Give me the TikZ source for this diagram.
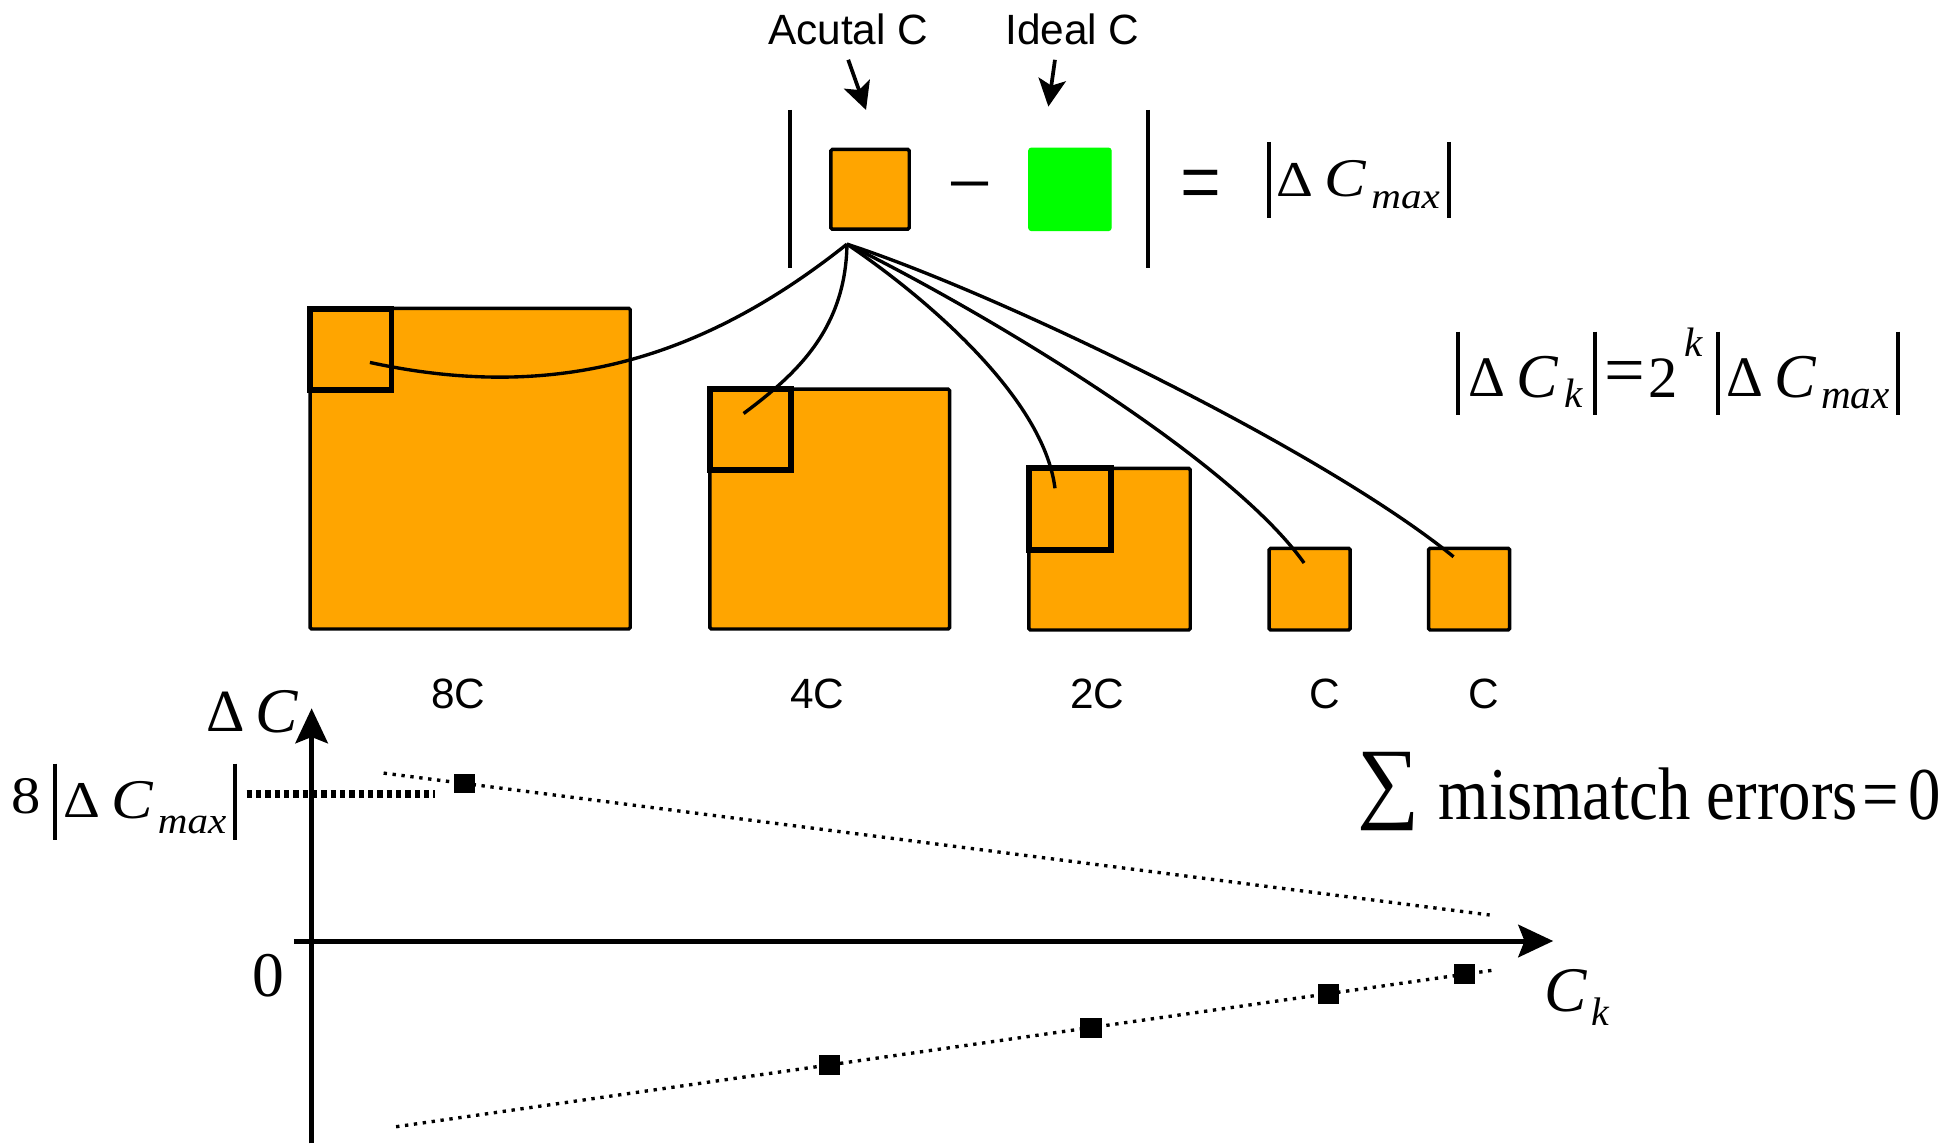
\documentclass[tikz,border=0pt]{standalone}
\usepackage{fontspec}
\usepackage{graphicx}
\setmainfont{Liberation Serif}
\newfontfamily\arialf{Liberation Sans}
\usetikzlibrary{arrows.meta}
\definecolor{boxorange}{HTML}{FFA500}
\definecolor{idealgreen}{HTML}{00FF00}
\begin{document}
\begin{tikzpicture}[x=1pt,y=-1pt,
  obox/.style={draw=black, fill=boxorange, line width=2.8pt, outer sep=0pt, inner sep=0pt, rounded corners=1.2pt, anchor=north west},
  gbox/.style={draw=idealgreen, fill=idealgreen, line width=1pt, outer sep=0pt, inner sep=0pt, rounded corners=2pt, anchor=north west},
  isq/.style={draw=black, line width=4.6pt, outer sep=0pt, inner sep=0pt, anchor=north west},
  fan/.style={line width=2.7pt},
  vbar/.style={line width=3.2pt},
  sans/.style={font=\arialf\fontsize{34}{40}\selectfont, inner sep=0pt, anchor=base},
  up/.style={font=\fontsize{#1}{#1}\selectfont, inner sep=0pt, anchor=base west},
  it/.style={font=\fontsize{#1}{#1}\selectfont\itshape, inner sep=0pt, anchor=base west},
  arr/.style={line width=3pt, -{Stealth[length=22pt,width=22pt,inset=5pt]}},
  axisarr/.style={line width=4pt, -{Stealth[length=28pt,width=26pt,inset=5pt]}},
  fine/.style={line width=2.7pt, dash pattern=on 2.7pt off 4.5pt},
  lvl/.style={line width=6pt, dash pattern=on 4.3pt off 3.2pt},
  mk/.style={fill=black, draw=none, minimum width=17pt, minimum height=16pt, inner sep=0pt, outer sep=0pt},
]
\useasboundingbox[fill=white] (0,0) rectangle (1568,918);

% ---- top: actual / ideal
\node[sans] (lA) at (681,36) {Acutal C};
\node[sans] (lI) at (861,36) {Ideal C};
\coordinate (aA0) at (681,48); \coordinate (aA1) at (695.3,88.3);
\coordinate (aI0) at (847,48); \coordinate (aI1) at (841.7,85.6);
\draw[arr] (aA0) -- (aA1);
\draw[arr] (aI0) -- (aI1);

\draw[vbar] (634,88.3) -- (634,215);
\draw[vbar] (922,88.3) -- (922,215);
\node[obox, minimum width=63pt, minimum height=64pt] (act) at (667,120) {};
\node[gbox, minimum width=66pt, minimum height=66pt] (ideal) at (826,119) {};
\node[up=64, anchor=base] (minus) at (778.8,168.7) {−};
\node[up=58, anchor=base, yscale=1.4] (eq1) at (964.4,173.7) {=};

% |Delta C_max| top
\draw[vbar] (1018.5,114) -- (1018.5,175);
\node[up=46, yscale=0.875] (t1) at (1024.7,158) {Δ};
\node[it=50, yscale=0.875] (t2) at (1063.3,158) {C};
\node[it=33, yscale=0.875] (t3) at (1100.9,167.5) {max};
\draw[vbar] (1163,114) -- (1163,175);

% |Delta C_k| = 2^k |Delta C_max|
\draw[vbar] (1170.9,266.3) -- (1170.9,333);
\draw[vbar] (1280.6,266.3) -- (1280.6,333);
\draw[vbar] (1379.6,266.3) -- (1379.6,333);
\draw[vbar] (1524.1,266.3) -- (1524.1,333);
\node[up=46] (k1) at (1178.4,318.5) {Δ};
\node[it=50] (k2) at (1217,319.5) {C};
\node[it=33] (k3) at (1256,327.5) {k};
\node[up=58, anchor=base] (k4) at (1304.7,317.1) {=};
\node[up=47] (k5) at (1323.4,319) {2};
\node[it=33] (k6) at (1352.5,286.4) {k};
\node[up=46] (k7) at (1385.8,318.5) {Δ};
\node[it=50] (k8) at (1424.4,319.5) {C};
\node[it=33] (k9) at (1462,327.8) {max};

% ---- capacitor boxes
\node[obox, minimum width=257pt, minimum height=257.5pt] (b8) at (249,247.5) {};
\node[isq, minimum width=65.4pt, minimum height=65pt] (s8) at (249,248) {};
\node[obox, minimum width=192.4pt, minimum height=192.6pt] (b4) at (570,312.4) {};
\node[isq, minimum width=65pt, minimum height=65pt] (s4) at (570,312.4) {};
\node[obox, minimum width=129.6pt, minimum height=129.8pt] (b2) at (826,376) {};
\node[isq, minimum width=66pt, minimum height=65.6pt] (s2) at (826,376) {};
\node[obox, minimum width=65pt, minimum height=65.6pt] (c1) at (1019,440.2) {};
\node[obox, minimum width=65pt, minimum height=65.6pt] (c2) at (1147,440.2) {};

\node[sans] (n8) at (368,568.7) {8C};
\node[sans] (n4) at (656,568.7) {4C};
\node[sans] (n2) at (881,568.7) {2C};
\node[sans] (n1) at (1064,568.7) {C};
\node[sans] (n0) at (1191,568.7) {C};

% ---- fan of connectors
\coordinate (fan) at (680,196);
\coordinate (e8) at (297,291);
\coordinate (e4) at (597,332);
\coordinate (e2) at (847,392);
\coordinate (ec1) at (1047,452);
\coordinate (ec2) at (1167,447);
\draw[fan] (fan) .. controls (562,290) and (443.6,322.8) .. (e8);
\draw[fan] (fan) .. controls (679,266) and (637,302) .. (e4);
\draw[fan] (fan) .. controls (745,240) and (838,320) .. (e2);
\draw[fan] (fan) .. controls (780,245) and (985,365) .. (ec1);
\draw[fan] (fan) .. controls (800,235) and (1060,360) .. (ec2);

% ---- graph
\coordinate (yb) at (250.2,918); \coordinate (yt) at (250.2,568.7);
\coordinate (xl) at (236,755.5); \coordinate (xr) at (1247,755.5);
\draw[axisarr] (yb) -- (yt);
\draw[axisarr] (xl) -- (xr);

\coordinate (lv0) at (198,637.3); \coordinate (lv1) at (349.3,637.3);
\draw[lvl] (lv0) -- (lv1);
\coordinate (u0) at (308,620.7); \coordinate (u1) at (1196,734.6);
\draw[fine] (u0) -- (u1) node[mk, pos=0.0732] (mu) {};
\coordinate (l0) at (318,904.6); \coordinate (l1) at (1199.7,778.8);
\draw[fine] (l0) -- (l1)
  node[mk, pos=0.3947] (m1) {}
  node[mk, pos=0.6328] (m2) {}
  node[mk, pos=0.8494] (m3) {}
  node[mk, pos=0.9730] (m4) {};

% axis labels
\node[up=48] (g1) at (165.5,587.5) {Δ};
\node[it=51] (g2) at (205.3,588) {C};
\node[up=51] (g3) at (202.8,800) {0};
\node[it=51] (g4) at (1239.6,812) {C};
\node[it=32] (g5) at (1277.8,823) {k};

% 8|Delta C_max|
\node[up=47, yscale=0.9] (h1) at (9.4,653.5) {8};
\draw[vbar] (44.2,613) -- (44.2,674);
\node[up=46, yscale=0.9] (h2) at (50.4,656) {Δ};
\node[it=50, yscale=0.9] (h3) at (89,657) {C};
\node[it=33, yscale=0.9] (h4) at (126.6,669) {max};
\draw[vbar] (188.7,613) -- (188.7,674);

% sum of mismatch errors
\node[anchor=north west, inner sep=0pt] (sig) at (1090,603.5) {\resizebox*{50pt}{63pt}{∑}};
\node[up=52, yscale=1.15] (s1) at (1155,658) {mismatch errors};
\node[up=52, anchor=base, yscale=1.15] (s2e) at (1510,658) {=};
\node[up=52, yscale=1.15] (s3) at (1532,658) {0};
\end{tikzpicture}
\end{document}
